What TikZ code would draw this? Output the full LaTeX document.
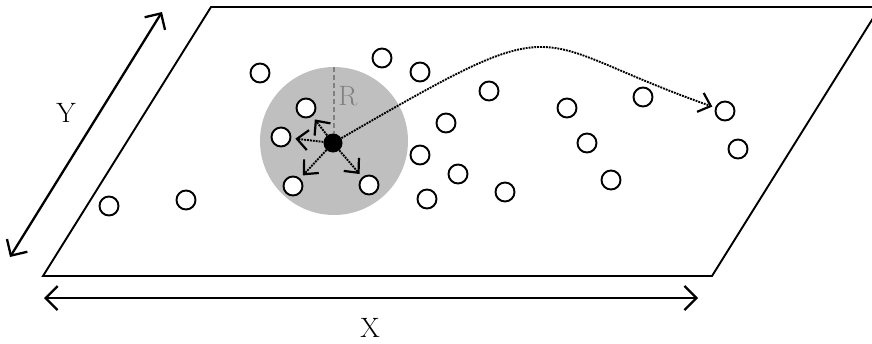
\documentclass[tikz,border=0pt]{standalone}
\usetikzlibrary{arrows.meta}
\begin{document}
\begin{tikzpicture}[x=1pt,y=-1pt,
  pt/.style={circle,draw,line width=1.9,minimum size=19,inner sep=0,fill=white},
  plane/.style={line width=1.9,line join=miter},
  dim/.style={line width=2.3,{Straight Barb[length=12,width=24,line width=2.3]}-{Straight Barb[length=12,width=24,line width=2.3]}},
  walk/.style={line width=1.9,densely dotted,-{Straight Barb[length=11,width=20,line width=2.2]}},
  lbl/.style={font=\fontsize{28}{30}\selectfont,inner sep=0}
]
\useasboundingbox (0,0) rectangle (872,343);
\clip (0,0) rectangle (872,343);
% the plane
\draw[plane] (43,276) -- (211,7) -- (880,7) -- (712,276) -- cycle;
% dimension arrows
\coordinate (ya) at (10,257);
\coordinate (yb) at (162,12);
\draw[dim] (ya) -- (yb);
\node[lbl] (ylab) at (66,113) {Y};
\coordinate (xa) at (44,298);
\coordinate (xb) at (698,298);
\draw[dim] (xa) -- (xb);
\node[lbl] (xlab) at (370,328) {X};
% neighbourhood of radius R
\node[circle,fill=black!25,minimum size=148,inner sep=0] (zone) at (334,141) {};
\coordinate (rtop) at (334,67);
\coordinate (rbot) at (334,141);
\draw[black!50,line width=1.5,dash pattern=on 5 off 3] (rtop) -- (rbot);
\node[lbl,text=black!50] (rlab) at (348,96) {R};
% particles
\foreach \n/\x/\y in {1/109/206,2/186/200,3/260/73,4/306/108,5/281/137,6/293/186,
  7/369/185,8/382/58,9/420/72,10/489/91,11/446/123,12/420/155,13/458/174,
  14/427/199,15/505/192,16/567/108,17/587/143,18/611/180,19/643/97,
  20/725/111,21/738/149}
  \node[pt] (c\n) at (\x,\y) {};
% the walker
\node[circle,fill=black,minimum size=19,inner sep=0] (dot) at (333,143) {};
\draw[walk,shorten >=4] (dot) -- (c4);
\draw[walk,shorten >=4] (dot) -- (c5);
\draw[walk,shorten >=4] (dot) -- (c6);
\draw[walk,shorten >=4] (dot) -- (c7);
\draw[walk,shorten >=3] (dot) .. controls (573,4) and (522,40) .. (c20);
\end{tikzpicture}
\end{document}
